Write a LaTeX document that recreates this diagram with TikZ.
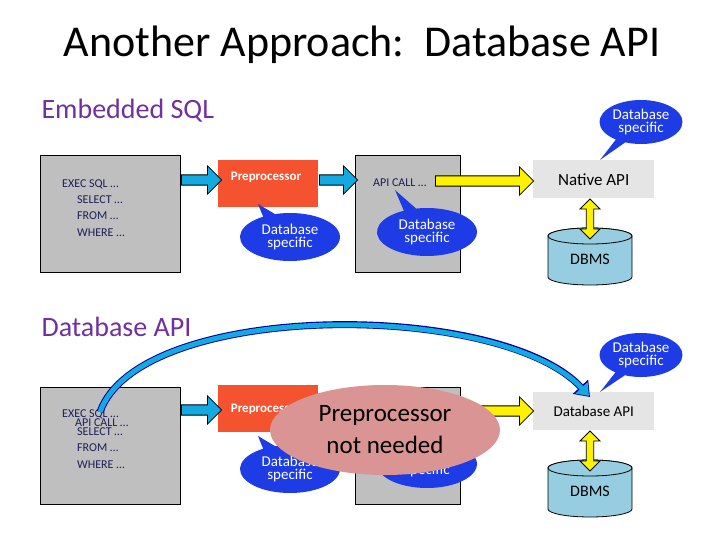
\documentclass[tikz,border=0pt]{standalone}
\usepackage{fontspec}
\setmainfont{Carlito}
\usepackage{tikz}
\usetikzlibrary{shapes.geometric, shapes.arrows, shapes.callouts, arrows.meta, positioning}

\definecolor{codeblue}{RGB}{30,30,90}
\definecolor{secpurple}{RGB}{112,48,160}
\definecolor{preorange}{RGB}{245,83,47}
\definecolor{calloutblue}{RGB}{30,60,230}
\definecolor{arrowblue}{RGB}{20,170,225}
\definecolor{dbblue}{RGB}{150,205,225}
\definecolor{pinkish}{RGB}{218,148,148}

\tikzset{
  srcbox/.style={draw=black, thick, fill=gray!50, minimum width=140pt, minimum height=117pt, anchor=north west},
  prebox/.style={fill=preorange, minimum width=100pt, minimum height=47pt, anchor=north west},
  apibox/.style={fill=gray!20, minimum width=121pt, minimum height=38pt, anchor=north west, font=\fontsize{17}{18}\selectfont},
  code/.style={text=codeblue, font=\fontsize{12}{12}\selectfont, anchor=west, inner sep=0pt},
  blue arrow/.style={single arrow, draw=black, thick, fill=arrowblue, minimum width=28pt, single arrow head extend=5pt, inner sep=2.5pt},
  yellow arrow/.style={single arrow, draw=black, thick, fill=yellow, minimum width=28pt, single arrow head extend=5pt, inner sep=2.5pt},
  dbspec/.style={ellipse callout, fill=calloutblue, text=white, align=center, inner sep=1pt,
    font=\fontsize{15}{16}\selectfont},
  dbcyl/.style={draw=black, thick, fill=dbblue},
  section/.style={text=secpurple, anchor=west, font=\fontsize{28}{30}\selectfont},
  dbl arrow/.style={double arrow, draw=black, thick, fill=yellow, minimum width=20pt, double arrow head extend=4pt, inner sep=2pt, minimum height=40pt, rotate=90}
}

% cylinder: name, centre x, top y
\newcommand{\dbcylinder}[3]{
  \draw[dbcyl] (#2-42,#3+8) -- (#2-42,#3+49) arc[start angle=180, end angle=360, x radius=42, y radius=-8]
    -- (#2+42,#3+8) arc[start angle=0, end angle=180, x radius=42, y radius=-8] -- cycle;
  \draw[dbcyl] (#2,#3+8) ellipse[x radius=42, y radius=8];
  \coordinate (#1) at (#2,#3);
  \node (#1text) at (#2,#3+31) {\fontsize{16}{18}\selectfont DBMS};
}

\begin{document}
\begin{tikzpicture}[x=1pt, y=-1pt]
    \useasboundingbox (0,0) rectangle (720,540);

    % Title
    \node (title) at (362,45) {\fontsize{44}{48}\selectfont Another Approach:\ \ Database API};

    % Upper row: embedded SQL
    \node[section] (embsql) at (38,111) {Embedded SQL};
    \node[srcbox] (src) at (40,155) {};
    \node[code] (exec) at (62,184) {EXEC SQL \dots};
    \node[code] (sel) at (77,200) {SELECT \dots};
    \node[code] (from) at (77,216) {FROM \dots};
    \node[code] (where) at (77,233) {WHERE \dots};
    \node[prebox] (pre) at (218,160) {};
    \node[text=white, font=\bfseries\fontsize{13}{14}\selectfont] (pretext) at (266,177) {Preprocessor};
    \node[srcbox, minimum width=105pt] (out) at (355,155) {};
    \node[code] (apicall) at (373,183) {API CALL \dots};
    \node[apibox] (native) at (533,160) {Native API};
    \dbcylinder{db}{590}{228}

    \node[blue arrow, minimum height=40pt] (a1) at (199,180) {};
    \node[blue arrow, minimum height=38pt] (a2) at (336,180) {};
    \node[yellow arrow, minimum height=98pt] (a3) at (482,181) {};
    \node[dbl arrow] (a4) at (590,219) {};

    \node[dbspec, minimum width=80pt, minimum height=44pt, callout absolute pointer={(600,160)}] (spec1) at (641,122) {Database\\[-3pt]specific};
    \node[dbspec, minimum width=100pt, minimum height=48pt, callout absolute pointer={(258,204)}] (spec2) at (290,237) {Database\\[-3pt]specific};
    \node[dbspec, minimum width=100pt, minimum height=48pt, callout absolute pointer={(395,190)}] (spec3) at (427,232) {Database\\[-3pt]specific};

    % Lower row: database API
    \node[section] (dbapi) at (38,327) {Database API};
    \node[srcbox] (srcb) at (40,387) {};
    \node[code] (execb) at (62,414) {EXEC SQL \dots};
    \node[code] (apicallb) at (75,423) {API CALL \dots};
    \node[code] (selb) at (77,432) {SELECT \dots};
    \node[code] (fromb) at (77,448) {FROM \dots};
    \node[code] (whereb) at (77,465) {WHERE \dots};
    \node[prebox] (preb) at (218,385) {};
    \node[text=white, font=\bfseries\fontsize{13}{14}\selectfont] (pretextb) at (266,409) {Preprocessor};
    \node[srcbox, minimum width=105pt] (outb) at (355,387) {};
    \node[apibox, font=\fontsize{15}{18}\selectfont] (dbapibox) at (533,392) {Database API};
    \dbcylinder{dbb}{590}{460}

    \node[blue arrow, minimum height=40pt] (b1) at (199,410) {};
    \node[yellow arrow, minimum height=98pt] (b3) at (482,411) {};
    \node[dbl arrow] (b4) at (590,451) {};

    \node[dbspec, minimum width=80pt, minimum height=44pt, callout absolute pointer={(600,392)}] (spec4) at (641,355) {Database\\[-3pt]specific};
    \node[dbspec, minimum width=100pt, minimum height=48pt, callout absolute pointer={(258,436)}] (spec5) at (290,469) {Database\\[-3pt]specific};
    \node[dbspec, minimum width=100pt, minimum height=48pt, callout absolute pointer={(395,422)}] (spec6) at (427,464) {Database\\[-3pt]specific};

    % Curved arrow and overlay
    \coordinate (cstart) at (100,412);
    \coordinate (cend) at (590,397);
    \draw[line width=7pt, blue!60!black, -{Triangle[length=14pt,width=20pt]}] (cstart) .. controls (140,300) and (500,300) .. (cend);
    \draw[line width=5pt, arrowblue, -{Triangle[length=11pt,width=16pt]}, shorten >=1.5pt] (cstart) .. controls (140,300) and (500,300) .. (cend);
    \node[ellipse, fill=pinkish, minimum width=230pt, minimum height=90pt, align=center,
      font=\fontsize{25}{32}\selectfont] (notneeded) at (385,430) {Preprocessor\\not needed};
\end{tikzpicture}
\end{document}
